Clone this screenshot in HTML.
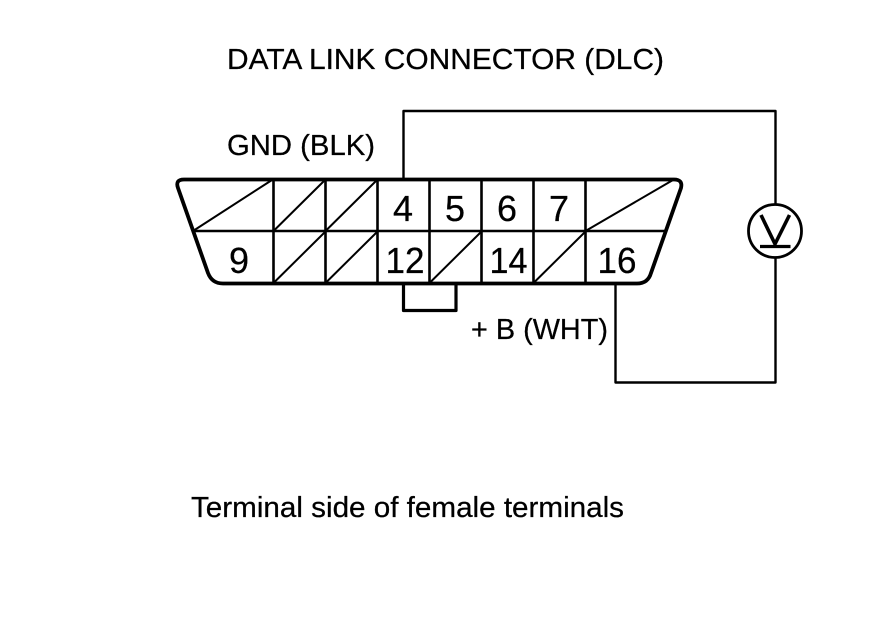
<!DOCTYPE html>
<html>
<head>
<meta charset="utf-8">
<style>
html,body{margin:0;padding:0;background:#fff;width:880px;height:630px;overflow:hidden}
svg{display:block}
text{font-family:"Liberation Sans",sans-serif;fill:#000;stroke:#000;stroke-width:.25px}
.l{font-size:28.5px}
.n{font-size:36px;text-anchor:middle}
</style>
</head>
<body>
<svg width="880" height="630" viewBox="0 0 880 630" xmlns="http://www.w3.org/2000/svg">
<rect width="880" height="630" fill="#fff"/>
<text class="l" x="227" y="69" textLength="437" lengthAdjust="spacingAndGlyphs">DATA LINK CONNECTOR (DLC)</text>
<text class="l" x="227" y="155" textLength="148" lengthAdjust="spacingAndGlyphs">GND (BLK)</text>
<text class="l" x="471" y="339" textLength="137" lengthAdjust="spacingAndGlyphs">+ B (WHT)</text>
<text class="l" x="191" y="517" textLength="433" lengthAdjust="spacingAndGlyphs">Terminal side of female terminals</text>

<g fill="none" stroke="#000" stroke-linejoin="round">
<path d="M184 179.500H674Q683 179.500 681 188L651 273Q648 283.500 637 283.500H223Q212 283.500 208 273L178 188Q175 179.500 184 179.500Z" stroke-width="3.800"/>
<path d="M193 231H667" stroke-width="2.600"/>
<path d="M273.500 180V283M325.500 180V283M377.500 180V283M429.500 180V283M481.500 180V283M533.500 180V283M585.500 180V283" stroke-width="2.600"/>
<path d="M193 231L272 180M273.500 231L325 180M325.500 231L377 180M273.500 283L325 232M325.500 283L377 232M429.500 283L481 232M533.500 283L585 232M585.500 231L673 180" stroke-width="2"/>
<path d="M403.500 284V310.500H456V284" stroke-width="3.200"/>
<path d="M403.500 179V111H775.500V204" stroke-width="2.400"/>
<path d="M775.500 258V382.500H615.500V284" stroke-width="2.400"/>
<circle cx="775" cy="231" r="26.500" stroke-width="2.800"/>
<path d="M761 215L775 244L789.500 215" stroke-width="3.600"/>
<path d="M760 246.500H790.500" stroke-width="3.200"/>
</g>

<text class="n" x="403" y="221">4</text>
<text class="n" x="455" y="221">5</text>
<text class="n" x="507" y="221">6</text>
<text class="n" x="559" y="221">7</text>
<text class="n" x="239" y="273">9</text>
<text class="n" x="405" y="273" textLength="39" lengthAdjust="spacingAndGlyphs">12</text>
<text class="n" x="508.500" y="273" textLength="38" lengthAdjust="spacingAndGlyphs">14</text>
<text class="n" x="617" y="273" textLength="39" lengthAdjust="spacingAndGlyphs">16</text>
</svg>
</body>
</html>
